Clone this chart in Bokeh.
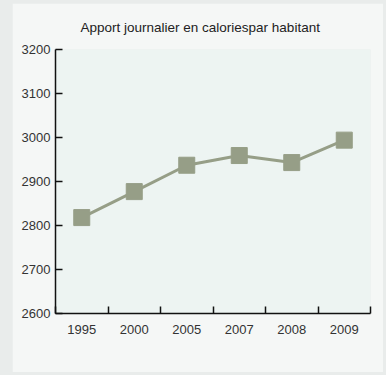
import numpy as np
from bokeh.plotting import figure
from bokeh.layouts import column
from bokeh.models import Range1d, FixedTicker, Title, ColumnDataSource
from bokeh.embed import file_html
from bokeh.resources import INLINE

years = ["1995", "2000", "2005", "2007", "2008", "2009"]
calories = [2818, 2877, 2937, 2959, 2943, 2994]
y_ticks = [2600, 2700, 2800, 2900, 3000, 3100, 3200]
title_text = "Apport journalier en caloriespar habitant"

xpos = np.arange(len(years)) + 0.5
src = ColumnDataSource(dict(x=xpos, y=calories, year=years))

FONT = "Liberation Sans"
COL = "#969e87"

p = figure(width=371, height=369, output_backend="svg", toolbar_location=None,
           x_range=Range1d(0, len(years)), y_range=Range1d(2600, 3200),
           min_border_left=43, min_border_right=13, min_border_top=45, min_border_bottom=59,
           background_fill_color="#edf4f2", border_fill_color="#f5f7f6")
p.margin = (3, 3, 3, 12)
p.outline_line_color = None
p.grid.grid_line_color = None

t = Title(text=title_text, align="left", text_font=FONT, text_font_size="13.5px",
          text_font_style="normal", text_color="#222222", standoff=29, offset=25)
p.add_layout(t, "above")

p.line("x", "y", source=src, line_color=COL, line_width=3)
p.scatter("x", "y", source=src, marker="square", size=16, fill_color=COL, line_color=COL)

# x axis
p.xaxis.ticker = FixedTicker(ticks=list(xpos), minor_ticks=list(range(len(years) + 1)))
p.xaxis.major_label_overrides = {float(x): yr for x, yr in zip(xpos, years)}
p.xaxis.major_tick_in = 0
p.xaxis.major_tick_out = 0
p.xaxis.minor_tick_in = 7
p.xaxis.minor_tick_out = 0
p.xaxis.minor_tick_line_width = 1.5
p.xaxis.minor_tick_line_color = "#111111"
p.xaxis.major_label_standoff = 11

# y axis
p.yaxis.ticker = FixedTicker(ticks=y_ticks)
p.yaxis.major_tick_in = 7
p.yaxis.major_tick_out = 0
p.yaxis.minor_tick_line_color = None
p.yaxis.major_tick_line_width = 1.5
p.yaxis.major_tick_line_color = "#111111"
p.yaxis.major_label_standoff = 5

for ax in (p.xaxis, p.yaxis):
    ax.axis_line_width = 1.5
    ax.axis_line_color = "#111111"
    ax.major_label_text_font = FONT
    ax.major_label_text_font_size = "13px"
    ax.major_label_text_color = "#333333"

layout = column(p, styles={"background-color": "#e9eceb"})

open("out.html", "w").write(file_html(layout, INLINE))
